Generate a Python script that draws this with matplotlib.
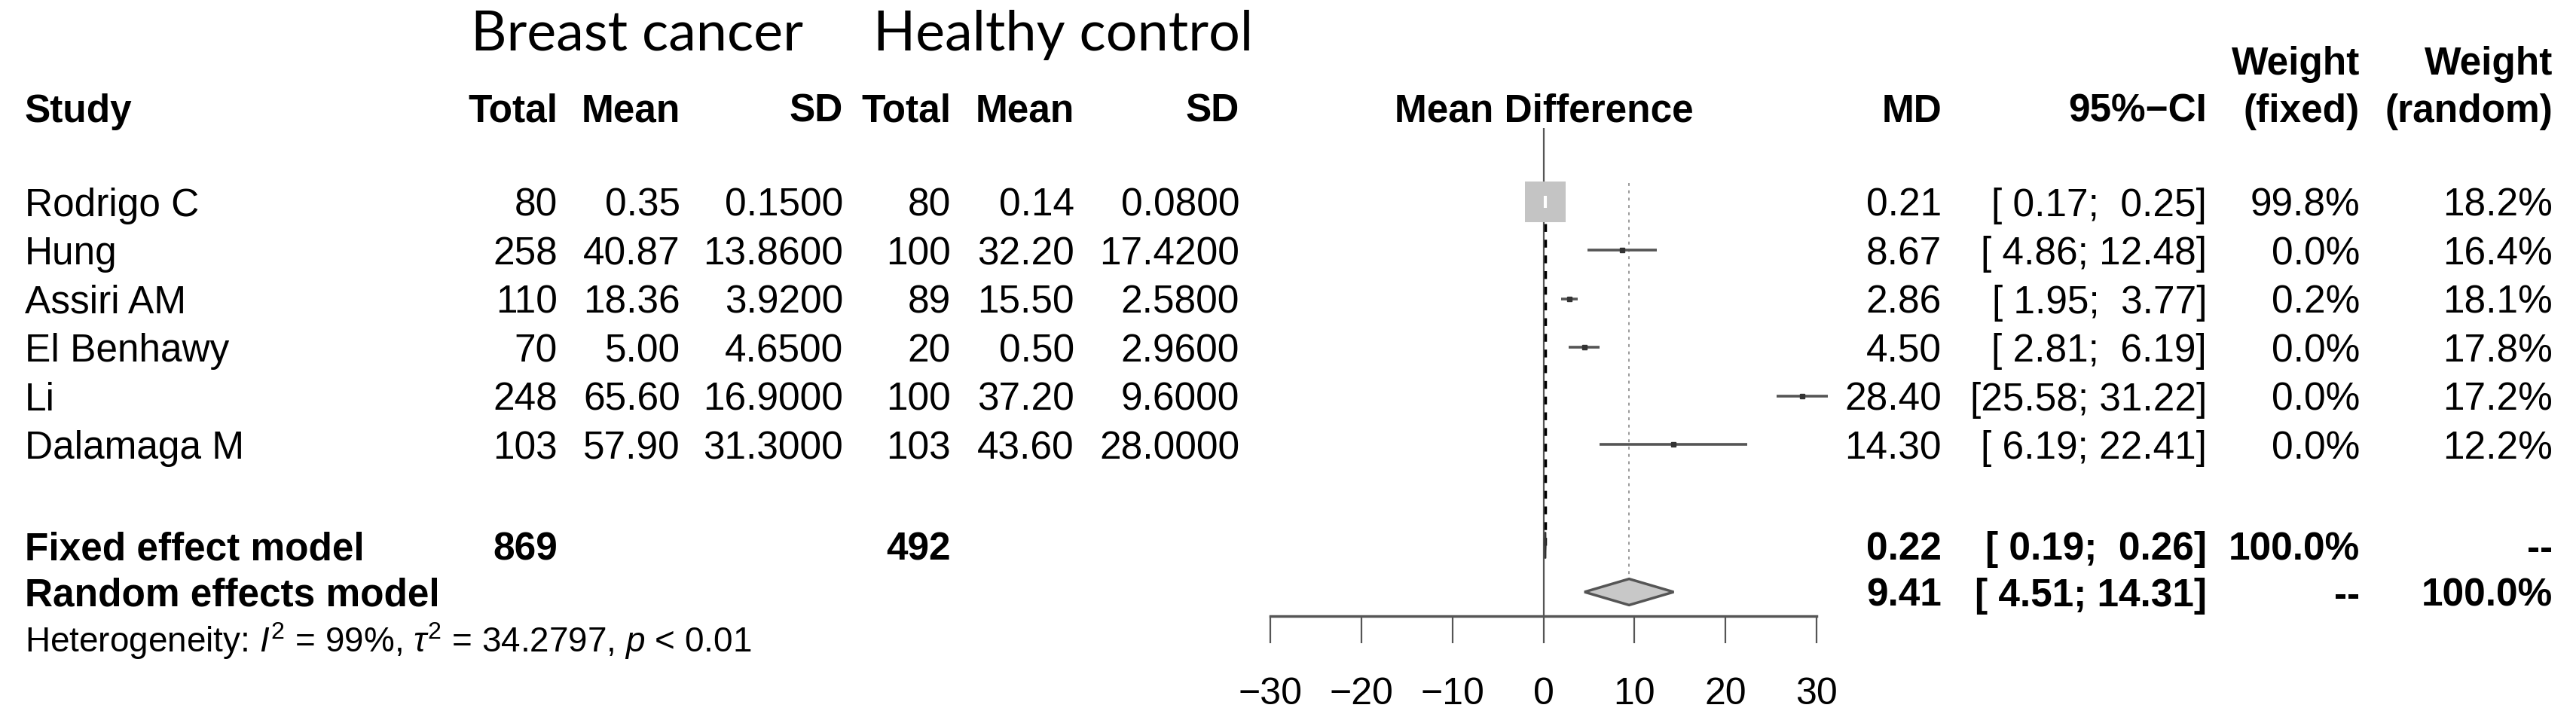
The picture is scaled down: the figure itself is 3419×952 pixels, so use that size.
import matplotlib
matplotlib.use("Agg")
import matplotlib.pyplot as plt
from matplotlib.patches import Polygon, Rectangle

# ---- data ----
studies = ["Rodrigo C", "Hung", "Assiri AM", "El Benhawy", "Li", "Dalamaga M"]
bc_total = [80, 258, 110, 70, 248, 103]
bc_mean = [0.35, 40.87, 18.36, 5.00, 65.60, 57.90]
bc_sd = [0.15, 13.86, 3.92, 4.65, 16.90, 31.30]
hc_total = [80, 100, 89, 20, 100, 103]
hc_mean = [0.14, 32.20, 15.50, 0.50, 37.20, 43.60]
hc_sd = [0.08, 17.42, 2.58, 2.96, 9.60, 28.00]
md = [0.21, 8.67, 2.86, 4.50, 28.40, 14.30]
ci_lo = [0.17, 4.86, 1.95, 2.81, 25.58, 6.19]
ci_hi = [0.25, 12.48, 3.77, 6.19, 31.22, 22.41]
w_fixed = [99.8, 0.0, 0.2, 0.0, 0.0, 0.0]
w_random = [18.2, 16.4, 18.1, 17.8, 17.2, 12.2]

fixed_md, fixed_lo, fixed_hi = 0.22, 0.19, 0.26
random_md, random_lo, random_hi = 9.41, 4.51, 14.31
total_bc, total_hc = 869, 492
i2, tau2 = 99, 34.2797
xticks = [-30, -20, -10, 0, 10, 20, 30]

# ---- layout (pixels) ----
W, H = 3419, 952
ROW0, ROWH = 268, 64.4


def row(px):
	"""pixel height -> row units"""
	return 1 + (px - ROW0) / ROWH


plt.rcParams['font.family'] = ['Liberation Sans', 'DejaVu Sans']
plt.rcParams['mathtext.fontset'] = 'custom'
plt.rcParams['mathtext.rm'] = 'Liberation Sans'
plt.rcParams['mathtext.it'] = 'Liberation Sans:italic'

FS = 37
GREY = '#555555'

fig = plt.figure(figsize=(W / 100, H / 100), dpi=100)

# background axes for the table text
bg = fig.add_axes([0, 0, 1, 1])
bg.set_xlim(0, W)
bg.set_ylim(row(H), row(0))
bg.axis('off')


def put(x, r, s, ha='right', bold=False, size=FS, **kw):
	bg.text(x, r, s, ha=ha, va='center_baseline', fontsize=size,
		fontweight='bold' if bold else 'normal', **kw)


# column right edges
X_STUDY = 33
X_BCT, X_BCM, X_BCS = 740, 903, 1119
X_HCT, X_HCM, X_HCS = 1262, 1426, 1645
X_MD, X_CI, X_WF, X_WR = 2577, 2929, 3132, 3388
X_ZERO = 2049

# group titles
bg.text(625, row(67), "Breast cancer", fontsize=53, family='Lato', va='baseline')
bg.text(1159, row(67), "Healthy control", fontsize=53, family='Lato', va='baseline')

# header
r_head = row(143)
put(X_STUDY, r_head, "Study", ha='left', bold=True)
for x, s in [(X_BCT, "Total"), (X_BCM, "Mean"), (X_BCS, "SD"),
		(X_HCT, "Total"), (X_HCM, "Mean"), (X_HCS, "SD"),
		(X_MD, "MD"), (X_CI, "95%\u2212CI"), (X_WF, "(fixed)"), (X_WR, "(random)")]:
	put(x, r_head, s, bold=True)
put(X_ZERO, r_head, "Mean Difference", ha='center', bold=True)
put(X_WF, row(80), "Weight", bold=True)
put(X_WR, row(80), "Weight", bold=True)

# study rows
for i, name in enumerate(studies):
	r = i + 1
	put(X_STUDY, r, name, ha='left')
	put(X_BCT, r, str(bc_total[i]))
	put(X_BCM, r, "%.2f" % bc_mean[i])
	put(X_BCS, r, "%.4f" % bc_sd[i])
	put(X_HCT, r, str(hc_total[i]))
	put(X_HCM, r, "%.2f" % hc_mean[i])
	put(X_HCS, r, "%.4f" % hc_sd[i])
	put(X_MD, r, "%.2f" % md[i])
	put(X_CI, r, "[%5.2f; %5.2f]" % (ci_lo[i], ci_hi[i]))
	put(X_WF, r, "%.1f%%" % w_fixed[i])
	put(X_WR, r, "%.1f%%" % w_random[i])

# summary rows
r_fix, r_ran = row(724), row(786)
put(X_STUDY, r_fix, "Fixed effect model", ha='left', bold=True)
put(X_BCT, r_fix, str(total_bc), bold=True)
put(X_HCT, r_fix, str(total_hc), bold=True)
put(X_MD, r_fix, "%.2f" % fixed_md, bold=True)
put(X_CI, r_fix, "[%5.2f; %5.2f]" % (fixed_lo, fixed_hi), bold=True)
put(X_WF, r_fix, "100.0%", bold=True)
put(X_WR, r_fix, "--", bold=True)

put(X_STUDY, r_ran, "Random effects model", ha='left', bold=True)
put(X_MD, r_ran, "%.2f" % random_md, bold=True)
put(X_CI, r_ran, "[%5.2f; %5.2f]" % (random_lo, random_hi), bold=True)
put(X_WF, r_ran, "--", bold=True)
put(X_WR, r_ran, "100.0%", bold=True)

put(X_STUDY, row(845),
	r"Heterogeneity: $I^2$ = %d%%, $\tau^2$ = %.4f, $p$ < 0.01" % (i2, tau2),
	ha='left', size=33)

# ---- forest panel ----
AX_L, AX_R, AX_T, AX_B = 1686, 2411, 170, 818
ax = fig.add_axes([AX_L / W, 1 - AX_B / H, (AX_R - AX_L) / W, (AX_B - AX_T) / H])
ax.set_xlim(xticks[0], xticks[-1])
ax.set_ylim(row(AX_B), row(AX_T))
ax.patch.set_visible(False)
for side in ['left', 'right', 'top']:
	ax.spines[side].set_visible(False)
ax.spines['bottom'].set_linewidth(2.5)
ax.spines['bottom'].set_color(GREY)
ax.set_yticks([])
ax.set_xticks(xticks)
ax.tick_params(axis='x', length=26, width=1.6, color=GREY, labelsize=36, pad=32)

# line of no effect
ax.axvline(0, color=GREY, lw=1.6, zorder=1)
# fixed effect line
ax.plot([fixed_md, fixed_md], [1.45, r_fix], color='black', lw=2.5,
	ls=(0, (3, 3)), zorder=2)
# random effect line
ax.plot([random_md, random_md], [row(243), r_ran - 0.27], color='#999999',
	lw=1.4, ls=(0, (2, 3)), zorder=1)

# studies
for i in range(len(studies)):
	r = i + 1
	if w_fixed[i] > 50:
		box_w, box_h = 4.45, 0.84
		ax.add_patch(Rectangle((md[i] - box_w / 2, r - box_h / 2), box_w, box_h,
			facecolor='#c4c4c4', edgecolor='none', zorder=3))
		ax.plot([md[i]], [r], marker='|', ms=12, mew=3, color='white', zorder=4)
	else:
		ax.plot([ci_lo[i], ci_hi[i]], [r, r], color=GREY, lw=2.6,
			solid_capstyle='butt', clip_on=False, zorder=3)
		ax.plot([md[i]], [r], marker='s', ms=4.5, color='#333333', zorder=4,
			clip_on=False)

# summary diamonds
ax.add_patch(Polygon([(fixed_lo, r_fix), (fixed_md, r_fix - 0.27),
	(fixed_hi, r_fix), (fixed_md, r_fix + 0.27)], closed=True,
	facecolor='#c8c8c8', edgecolor='#333333', lw=1.5, zorder=4))
ax.add_patch(Polygon([(random_lo, r_ran), (random_md, r_ran - 0.27),
	(random_hi, r_ran), (random_md, r_ran + 0.27)], closed=True,
	facecolor='#c8c8c8', edgecolor=GREY, lw=2.5, zorder=4))

fig.savefig("out.png", dpi=100)
